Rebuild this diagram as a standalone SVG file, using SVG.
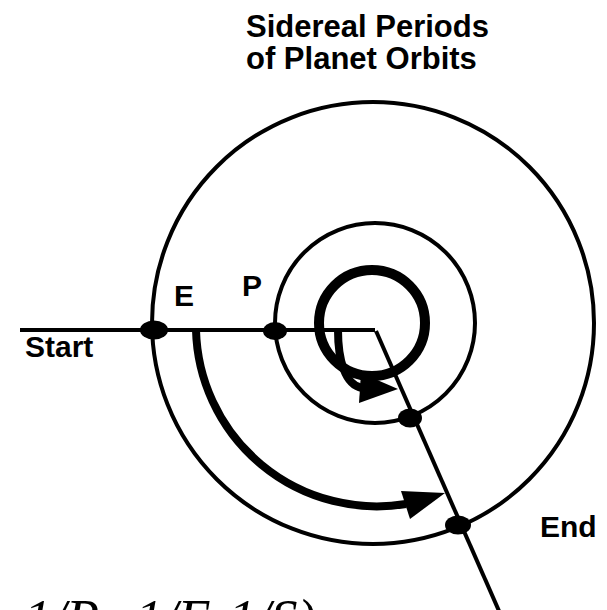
<svg xmlns="http://www.w3.org/2000/svg" width="607" height="610" viewBox="0 0 607 610">
<style>
.orbit{fill:none;stroke:#000;stroke-width:4}
.line{fill:none;stroke:#000;stroke-width:4}
.thick{fill:none;stroke:#000;stroke-width:8}
.dot{fill:#000}
.lbl{font-family:"Liberation Sans",Arial,sans-serif;font-weight:bold;font-size:30px;fill:#000}
.title{font-family:"Liberation Sans",Arial,sans-serif;font-weight:bold;font-size:31px;fill:#000}
.eq{font-family:"Liberation Serif","Times New Roman",serif;font-style:italic;font-size:54px;fill:#000}
</style>
<rect width="607" height="610" fill="#fff"/>
<g id="title">
<text class="title" x="246" y="37">Sidereal Periods</text>
<text class="title" x="246" y="69">of Planet Orbits</text>
</g>
<g id="orbits">
<circle id="outer-orbit" class="orbit" cx="373" cy="323" r="221"/>
<circle id="middle-orbit" class="orbit" cx="375" cy="323" r="100"/>
<circle id="inner-orbit" cx="372" cy="323" r="53" fill="none" stroke="#000" stroke-width="10"/>
</g>
<g id="connectors">
<path class="line" d="M20 330 H375"/>
<path class="line" d="M376 331 L503 620"/>
<path class="thick" d="M196 330 A181 181 0 0 0 406 504"/>
<polygon points="445,493 401,491 410,519" fill="#000"/>
<path class="thick" d="M338 330 C338 360 345 385 362 388"/>
<polygon points="398,389 361,373 359,403" fill="#000"/>
</g>
<g id="dots">
<ellipse id="start-dot" class="dot" cx="154" cy="330" rx="14" ry="9.5"/>
<ellipse id="p-dot" class="dot" cx="275" cy="331" rx="12" ry="9"/>
<ellipse id="mid-dot" class="dot" cx="410" cy="418" rx="12" ry="9.5"/>
<ellipse id="end-dot" class="dot" cx="458" cy="525" rx="13" ry="9.5"/>
</g>
<g id="labels">
<text class="lbl" x="25" y="357">Start</text>
<text class="lbl" x="174" y="306">E</text>
<text class="lbl" x="242" y="296">P</text>
<text class="lbl" x="540" y="537">End</text>
</g>
<g id="equation">
<text class="eq" x="24" y="637">1/P=1/E-1/S)</text>
</g>
</svg>
